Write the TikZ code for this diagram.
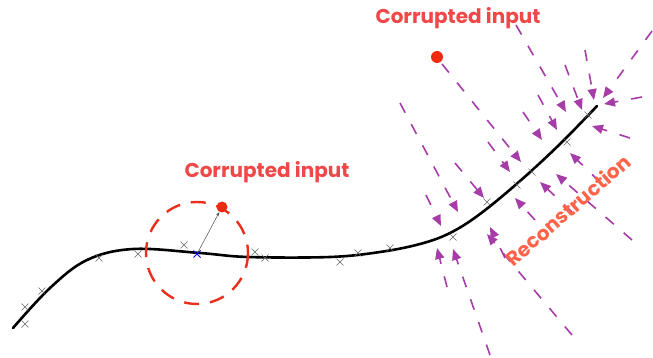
\documentclass[tikz,border=0pt]{standalone}
\usepackage{fontspec}
\setmainfont{Poppins}
\usetikzlibrary{arrows.meta}
\definecolor{lbl}{HTML}{F04848}
\definecolor{rec}{HTML}{FF6448}
\definecolor{prp}{HTML}{A63CA8}
\definecolor{ringc}{HTML}{E8301C}
\definecolor{dotc}{HTML}{EE2A10}
\begin{document}
\begin{tikzpicture}[x=1pt,y=-1pt,
  ray/.style={prp, line width=1.6pt, dash pattern=on 11pt off 13pt, -{Triangle[length=11pt,width=9pt]}},
  xmark/.style={gray!80!black, line width=0.5pt},
  lbltext/.style={text=lbl, font=\fontsize{20}{22}\selectfont\bfseries, inner sep=0pt},
  dot/.style={circle, fill=dotc, inner sep=0pt, minimum size=12pt}]
\useasboundingbox (0,0) rectangle (653,358);
% manifold
\draw[line width=2.6pt, line cap=round] plot[smooth, tension=0.6] coordinates {(13,328) (50,288) (87,260) (133,249) (200,253) (248,257) (330,257) (380,252) (420,244) (450,233) (480,214) (520,181) (560,144) (597,106)};
% training points
\foreach \p in {(25,324),(25,307),(42,291),(99,258),(138,254),(184,245),(255,252),(265,258),(340,262),(358,253),(390,248),(453,237),(487,202),(517,185),(532,172),(567,142),(588,115)}
  \draw[xmark] \p ++(-3.5,-3.5) -- ++(7,7) ++(-7,0) -- ++(7,-7);
% projection rays
\foreach \s/\t in {
  {(426,195)}/{(441,226)}, {(400,103)}/{(458,212)}, {(442,64)}/{(521,162)},
  {(455,163)}/{(484,198)}, {(488,142)}/{(510,172)}, {(523,112)}/{(542,140)},
  {(538,95)}/{(557,130)}, {(516,25)}/{(566,112)}, {(565,65)}/{(582,110)},
  {(585,50)}/{(594,100)}, {(652,31)}/{(603,98)}, {(642,97)}/{(604,104)},
  {(630,138)}/{(592,126)}, {(447,287)}/{(437,248)}, {(490,355)}/{(453,249)},
  {(505,258)}/{(490,227)}, {(572,335)}/{(487,234)}, {(535,220)}/{(515,198)},
  {(572,212)}/{(540,182)}, {(632,240)}/{(556,174)}, {(600,182)}/{(570,153)}}
  \draw[ray] \s -- \t;
% corrupted point and neighbourhood
\draw[ringc, line width=2.4pt, dash pattern=on 15pt off 11pt] (197,253) circle[radius=51];
\coordinate (x0) at (197,254);
\node[dot, minimum size=11pt] (xt) at (222,207) {};
\draw[gray!60!black, line width=0.5pt, -{Stealth[length=4pt,width=3pt]}] (x0) -- (xt);
\draw[blue, line width=0.9pt] (x0) ++(-3.5,-3.5) -- ++(7,7) ++(-7,0) -- ++(7,-7);
\node[dot] (xt2) at (437,57) {};
% labels
\node[lbltext] (c1) at (267,172) {Corrupted input};
\node[lbltext] (c2) at (458,18) {Corrupted input};
\node[text=rec, font=\fontsize{20}{22}\selectfont\bfseries, rotate=41, inner sep=0pt] (rc) at (568,210) {Reconstruction};
\end{tikzpicture}
\end{document}
